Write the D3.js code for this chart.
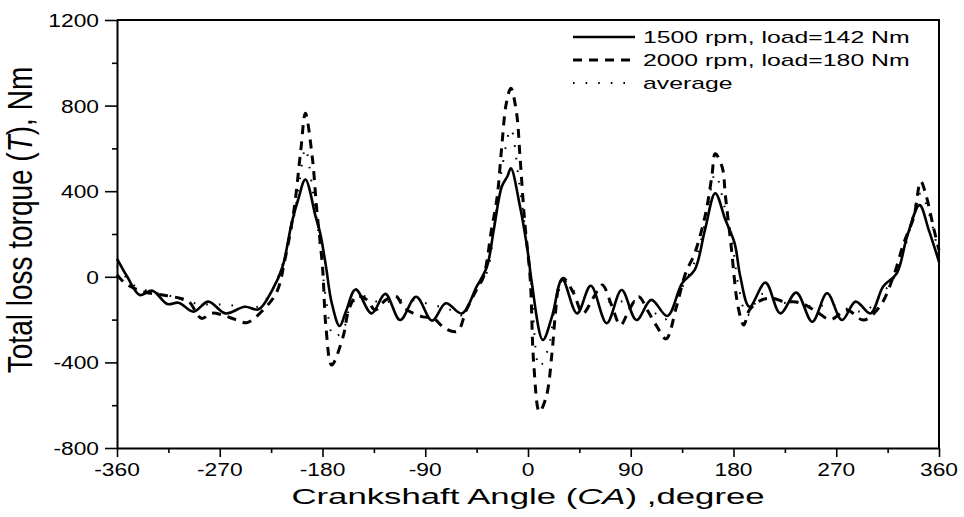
<!DOCTYPE html>
<html lang="en">
<head>
    <meta charset="UTF-8">
    <title>Total loss torque</title>
    <script src="https://cdn.jsdelivr.net/npm/d3@7"></script>
    <style>
        html, body { margin: 0; padding: 0; overflow: hidden; background: #fff; }
        svg { display: block; }
        text { font-family: "Liberation Sans", Arial, sans-serif; fill: #000; }
    </style>
</head>
<body>
    <div id="chart"></div>
    <script>
        // data
        const angle1500 = [-360,-351,-340,-329,-316,-306,-293,-280,-265,-248,-236,-224,-215,-207,-201,-195,-186,-182,-177,-172,-165,-159,-151,-137,-125,-112,-98,-84,-72,-58,-45,-36,-30,-23,-18,-15,-7,0,3,13,21,30,43,55,69,82,95,108,122,135,146,155,164,173,181,186,194,208,221,235,249,262,275,287,300,311,323,332,343,351,360];
        const torque1500 = [85,0,-85,-65,-127,-121,-163,-116,-171,-140,-152,-62,47,251,367,455,281,203,50,-120,-230,-155,-59,-171,-80,-202,-93,-205,-124,-171,-46,47,219,421,470,507,328,110,-15,-295,-186,-12,-171,-42,-217,-62,-202,-108,-183,-30,32,219,390,265,156,0,-140,-27,-171,-74,-210,-77,-202,-116,-171,-46,16,187,335,219,70];

        const angle2000 = [-360,-353,-337,-320,-305,-297,-286,-277,-268,-256,-246,-232,-220,-213,-205,-199,-195,-189,-185,-180,-177,-172,-162,-157,-150,-141,-134,-125,-116,-108,-93,-83,-73,-62,-54,-45,-39,-32,-27,-23,-19,-15,-10,-7,-3,2,5,10,16,21,24,27,31,40,48,57,65,73,81,89,97,105,113,121,130,138,146,155,161,164,170,173,178,184,189,194,204,214,224,238,252,265,279,294,308,320,329,338,344,349,355,360];
        const torque2000 = [10,-30,-70,-85,-100,-116,-194,-170,-178,-200,-214,-155,-70,78,312,593,764,561,312,47,-233,-412,-280,-155,-90,-108,-155,-110,-90,-147,-186,-193,-240,-255,-155,-60,0,219,374,608,811,881,764,561,265,-15,-404,-630,-560,-357,-171,-46,-7,-77,-171,-100,-38,-130,-225,-150,-93,-160,-233,-290,-140,16,110,281,468,575,514,374,140,-140,-225,-155,-110,-100,-116,-120,-160,-200,-155,-202,-140,0,156,281,445,374,234,125];

        const angleAvg = [-360,-345,-330,-313,-295,-280,-265,-250,-237,-225,-215,-205,-200,-195,-189,-183,-177,-170,-162,-155,-145,-130,-115,-100,-85,-70,-58,-45,-36,-30,-23,-15,-8,-2,3,10,18,25,32,45,60,75,90,105,120,132,146,155,164,172,179,185,192,205,220,235,250,265,280,295,310,322,332,344,351,360];
        const torqueAvg = [50,-40,-70,-90,-120,-130,-130,-140,-140,-70,60,280,450,600,420,180,-100,-280,-250,-130,-90,-120,-110,-110,-130,-150,-180,-50,20,220,500,690,450,200,-50,-420,-330,-100,-20,-90,-100,-120,-110,-140,-200,-80,70,250,480,330,150,-60,-180,-80,-120,-120,-140,-130,-150,-160,-80,10,170,390,300,100];

        const xTicks = [-360,-270,-180,-90,0,90,180,270,360];
        const yTicks = [-800,-400,0,400,800,1200];
        const legendLabels = ["1500 rpm, load=142 Nm", "2000 rpm, load=180 Nm", "average"];

        const width = 964, height = 517;
        const margin = {top: 20, right: 25, bottom: 69, left: 117};
        const innerWidth = width - margin.left - margin.right;
        const innerHeight = height - margin.top - margin.bottom;

        const svg = d3.select("#chart").append("svg")
            .attr("width", width).attr("height", height);
        const g = svg.append("g").attr("transform", `translate(${margin.left},${margin.top})`);

        const x = d3.scaleLinear().domain([-360, 360]).range([0, innerWidth]);
        const y = d3.scaleLinear().domain([-800, 1200]).range([innerHeight, 0]);

        // the figure is stretched sideways, so horizontal text is widened
        const kTick = 1.2, kLegend = 1.55, kTitle = 1.58;

        // minor ticks
        g.append("g").attr("transform", `translate(0,${innerHeight})`)
            .call(d3.axisBottom(x).tickValues(d3.range(-315, 360, 90)).tickSize(5).tickFormat(""))
            .call(a => a.select(".domain").remove())
            .selectAll("line").attr("stroke-width", 1.6);
        g.append("g")
            .call(d3.axisLeft(y).tickValues(d3.range(-600, 1200, 400)).tickSize(5).tickFormat(""))
            .call(a => a.select(".domain").remove())
            .selectAll("line").attr("stroke-width", 1.6);

        // major axes, labels drawn separately below
        const xAxis = g.append("g").attr("transform", `translate(0,${innerHeight})`)
            .call(d3.axisBottom(x).tickValues(xTicks).tickFormat("").tickSize(9).tickSizeOuter(0));
        const yAxis = g.append("g")
            .call(d3.axisLeft(y).tickValues(yTicks).tickFormat("").tickSize(12).tickSizeOuter(0));
        [xAxis, yAxis].forEach(a => {
            a.select(".domain").attr("stroke-width", 2);
            a.selectAll("line").attr("stroke-width", 1.6);
        });

        g.selectAll(".xlab")
            .data(xTicks)
            .join("text")
            .attr("class", "xlab")
            .attr("transform", d => `translate(${x(d)},${innerHeight + 28}) scale(${kTick},1)`)
            .attr("text-anchor", "middle")
            .attr("font-size", 19)
            .text(d => d);

        g.selectAll(".ylab")
            .data(yTicks)
            .join("text")
            .attr("class", "ylab")
            .attr("transform", d => `translate(-18,${y(d) + 7}) scale(${kTick},1)`)
            .attr("text-anchor", "end")
            .attr("font-size", 19)
            .text(d => d);

        // top and right frame
        g.append("path")
            .attr("d", `M0,0H${innerWidth}V${innerHeight}`)
            .attr("fill", "none").attr("stroke", "#000").attr("stroke-width", 2);

        const line = d3.line()
            .x(d => x(d[0]))
            .y(d => y(d[1]))
            .curve(d3.curveCatmullRom.alpha(0.5));

        const series = [
            {a: angle1500, t: torque1500, dash: null, w: 2.6},
            {a: angle2000, t: torque2000, dash: "9,7", w: 3},
            {a: angleAvg, t: torqueAvg, dash: "1.6,11", w: 2}
        ];

        g.selectAll(".series")
            .data(series)
            .join("path")
            .attr("class", "series")
            .attr("fill", "none")
            .attr("stroke", "#000")
            .attr("stroke-width", d => d.w)
            .attr("stroke-dasharray", d => d.dash)
            .attr("d", d => line(d.a.map((v, i) => [v, d.t[i]])));

        // legend
        const legend = svg.append("g").attr("transform", "translate(573,37)");
        legendLabels.forEach((lab, i) => {
            const row = legend.append("g").attr("transform", `translate(0,${i * 23})`);
            row.append("line")
                .attr("x1", 0).attr("x2", 62)
                .attr("stroke", "#000")
                .attr("stroke-width", series[i].w)
                .attr("stroke-dasharray", series[i].dash);
            row.append("text")
                .attr("transform", `translate(70,6) scale(${kLegend},1)`)
                .attr("font-size", 16)
                .text(lab);
        });

        // axis titles
        const xTitle = svg.append("text")
            .attr("transform", `translate(${margin.left + innerWidth / 2},504) scale(${kTitle},1)`)
            .attr("text-anchor", "middle")
            .attr("font-size", 22);
        xTitle.append("tspan").text("Crankshaft Angle (");
        xTitle.append("tspan").attr("font-style", "italic").text("CA");
        xTitle.append("tspan").text(") ,degree");

        const yTitle = svg.append("text")
            .attr("transform", "translate(32,220) rotate(-90) scale(1,1.22)")
            .attr("text-anchor", "middle")
            .attr("font-size", 28);
        yTitle.append("tspan").text("Total loss torque (");
        yTitle.append("tspan").attr("font-style", "italic").text("T");
        yTitle.append("tspan").text("), Nm");
    </script>
</body>
</html>
